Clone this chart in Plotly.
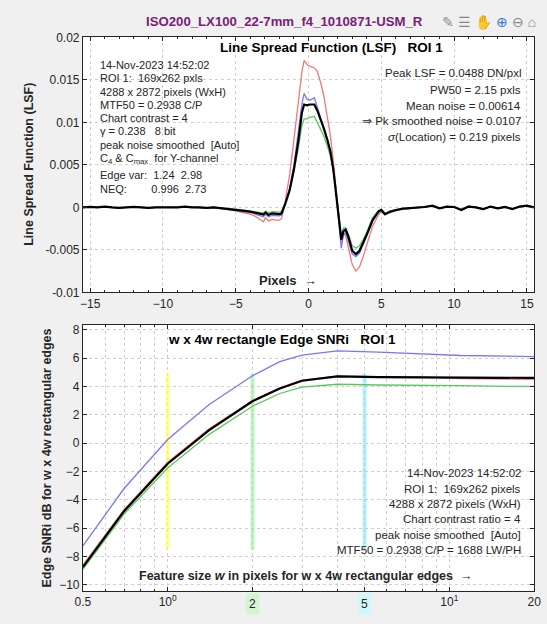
import math
import plotly.graph_objects as go

W, H = 547, 624

# ---------------- Line Spread Function data (values in units of 1e-4 DN/pxl) ----------------
LSF_UNIT = 1e-4
lsf_x = [-15.5, -15, -14.5, -14, -13.5, -13, -12.5, -12, -11.5, -11,
         -10.5, -10, -9.5, -9, -8.5, -8, -7.5, -7, -6.5, -6,
         -5.5, -5, -4.5, -4, -3.6, -3.3, -3.1, -2.95, -2.75, -2.5,
         -2.25, -2.0, -1.85, -1.6, -1.3, -1.0, -0.7, -0.45, -0.3, -0.1,
         0.1, 0.4, 0.6, 0.85, 1.05, 1.3, 1.5, 1.7, 1.9, 2.05,
         2.25, 2.4, 2.55, 2.75, 3.0, 3.25, 3.5, 3.75, 4.0, 4.4,
         4.8, 5.0, 5.25, 5.6, 6.0, 6.5, 7, 7.5, 8, 8.5,
         9, 9.5, 10, 10.5, 11, 11.5, 12, 12.5, 13, 13.5,
         14, 14.5, 15, 15.5]

lsf_red = [0, 0.5, 0, 0.5, 0, -0.5, 0, 0.5, 0, -0.5,
           0, 0, 0.5, 0, 1, 0, -0.5, -0.5, -0.5, -1.5,
           -2.5, -4, -6, -8, -11, -14, -17, -12, -16, -14,
           -15, -15, -13, 8, 38, 80, 128, 160, 173, 168,
           166, 164, 160, 146, 131, 108, 85, 55, 25, -5,
           -40, -32, -33, -48, -67, -75, -70, -58, -45, -22,
           -9, -5, -9, -6, -4, -2, -1.5, -0.5, 0, 1.5,
           -1.5, 1, 1, -2, 2, -0.5, -2.5, 1, -1.5, 0,
           -2, 0.5, 1.5, 0]

lsf_green = [0, 0.5, 0, 1, 0, -0.5, 0, 0.5, 0, -0.5,
             0, 0, 0.5, 0, 1, 0, 0, -0.5, 0, -0.5,
             -1, -2, -3, -4, -5, -6, -6.5, -4.5, -6.5, -5,
             -5.5, -5.5, -4.5, 5, 20, 42, 70, 97, 104, 104,
             106, 107, 100, 92, 84, 72, 60, 43, 20, -4,
             -34, -24, -24, -32, -45, -48, -45, -38, -29, -12,
             -4, -2, -7, -4, -2.5, -1.5, -1, 0, 0.5, 2,
             -1, 1, 0.5, -2.5, 1, 0, -2, 1, -1, 0.5,
             -1.5, 1, 1.5, 0]

lsf_blue = [0, 0.5, 0, 1, 0, -0.5, 0, 0.5, 0, -0.5,
            0, 0, 0.5, 0, 1, 0, 0, -0.5, 0, -1,
            -2, -3, -4.5, -6, -8, -10, -11, -8, -11, -9.5,
            -10, -10, -9, 4, 22, 50, 88, 122, 134, 127,
            126, 129, 118, 105, 94, 80, 66, 44, 16, -12,
            -48, -32, -30, -40, -55, -58, -54, -44, -34, -16,
            -6, -3, -8, -5, -3, -1.5, -1, 0, 0.5, 2,
            -1, 1, 0.5, -3, 1, 0, -2, 1, -1, 0.5,
            -2, 1, 2, 0]

lsf_black = [0, 0.5, 0, 1, 0, -0.5, 0, 0.5, 0, -0.5,
             0, 0, 0.5, 0, 1, 0, 0, -0.5, 0, -1,
             -1.5, -2.5, -3.5, -5, -6.5, -8, -8.5, -6, -9, -7,
             -7.5, -8, -7, 4, 20, 45, 78, 112, 121, 120,
             121, 121, 114, 103, 93, 79, 66, 45, 18, -8,
             -38, -28, -26, -35, -51, -55, -51, -42, -32, -15,
             -5, -3, -8, -5, -3, -1.5, -1, 0, 0.5, 2,
             -1, 1, 0.5, -3, 1, 0, -2, 1, -1, 0.5,
             -2, 1, 2, 0]

lsf_xticks = [-15, -10, -5, 0, 5, 10, 15]
lsf_yticks = [-0.01, -0.005, 0, 0.005, 0.01, 0.015, 0.02]
lsf_yticktext = ["-0.01", "-0.005", "0", "0.005", "0.01", "0.015", "0.02"]

# ---------------- Edge SNRi data ----------------
snr_w = [0.5, 0.7, 1.0, 1.4, 2.0, 2.5, 3.0, 4.0, 5.6, 8.0, 11.0, 16.0, 20.0]
snr_blue = [-7.25, -3.2, 0.25, 2.7, 4.75, 5.75, 6.2, 6.5, 6.42, 6.3, 6.18, 6.13, 6.1]
snr_red = [-8.6, -4.7, -1.35, 1.0, 3.0, 3.9, 4.45, 4.72, 4.68, 4.65, 4.55, 4.5, 4.5]
snr_black = [-8.75, -4.8, -1.45, 0.9, 2.95, 3.85, 4.4, 4.7, 4.65, 4.65, 4.62, 4.6, 4.6]
snr_green = [-8.9, -5.0, -1.75, 0.6, 2.6, 3.5, 3.95, 4.15, 4.1, 4.1, 4.05, 4.0, 4.0]

marker_w = [1, 2, 5]
marker_span = [-7.5, 4.9]
marker_colors = ["rgba(255,255,90,0.65)", "rgba(150,230,150,0.55)", "rgba(120,232,240,0.55)"]

snr_xticks = [0.5, 1, 2, 5, 10, 20]
snr_xticktext = ["0.5", "10<sup>0</sup>", "", "", "10<sup>1</sup>", "20"]
snr_minor = [0.6, 0.7, 0.8, 0.9, 3, 4, 6, 7, 8, 9]
snr_yticks = [-10, -8, -6, -4, -2, 0, 2, 4, 6, 8]

# ---------------- helpers ----------------
def px(x):
    return x / W

def py(y):
    return 1 - y / H

FONT = "Liberation Sans, Arial, Helvetica, sans-serif"
TXT = "#262626"
AX = "#262626"
GRID = "#cfcfcf"

RED = "#f07878"
BLUE = "#7878f5"
GREEN = "#5cc85c"

fig = go.Figure()

lsf_scaled = lambda vals: [v * LSF_UNIT for v in vals]
for vals, col, wd in [(lsf_red, RED, 1.3), (lsf_green, GREEN, 1.3),
                      (lsf_blue, BLUE, 1.3), (lsf_black, "black", 2.2)]:
    fig.add_trace(go.Scatter(x=lsf_x, y=lsf_scaled(vals), mode="lines",
                             line=dict(color=col, width=wd),
                             xaxis="x", yaxis="y", showlegend=False,
                             hoverinfo="skip"))

for w, col in zip(marker_w, marker_colors):
    fig.add_trace(go.Scatter(x=[w, w], y=marker_span, mode="lines",
                             line=dict(color=col, width=4),
                             xaxis="x2", yaxis="y2", showlegend=False,
                             hoverinfo="skip"))

for vals, col, wd in [(snr_blue, BLUE, 1.3), (snr_red, RED, 1.3),
                      (snr_green, GREEN, 1.3), (snr_black, "black", 2.2)]:
    fig.add_trace(go.Scatter(x=snr_w, y=vals, mode="lines",
                             line=dict(color=col, width=wd),
                             xaxis="x2", yaxis="y2", showlegend=False,
                             hoverinfo="skip"))

axis_common = dict(showline=True, linecolor=AX, linewidth=1, mirror="ticks",
                   ticks="inside", ticklen=4, tickcolor=AX,
                   showgrid=True, gridcolor=GRID, griddash="dot", gridwidth=1,
                   zeroline=False, ticklabeloverflow="allow",
                   tickfont=dict(family=FONT, size=12, color=TXT))

xdom = [px(77), px(541)]
fig.update_layout(
    width=W, height=H,
    margin=dict(l=0, r=0, t=0, b=0),
    paper_bgcolor="#f0f0f0", plot_bgcolor="white",
    showlegend=False,
    xaxis=dict(domain=xdom, range=[-15.5, 15.5], tickvals=lsf_xticks,
               anchor="y",
               minor=dict(dtick=1, ticks="inside", ticklen=2, tickcolor=AX, showgrid=False),
               **axis_common),
    yaxis=dict(domain=[py(292), py(31)], range=[-0.01, 0.02],
               tickvals=lsf_yticks, ticktext=lsf_yticktext, anchor="x",
               **axis_common),
    xaxis2=dict(domain=xdom, type="log", range=[math.log10(0.5), math.log10(20)],
                tickvals=snr_xticks, ticktext=snr_xticktext, anchor="y2",
                minor=dict(tickvals=snr_minor, ticks="inside", ticklen=2, tickcolor=AX,
                           showgrid=True, gridcolor=GRID, griddash="dot"),
                **axis_common),
    yaxis2=dict(domain=[py(597), py(325)], range=[-10.4, 8.35],
                tickvals=snr_yticks, anchor="x2",
                **axis_common),
)

ann = []

def text(x, y, s, size=11, anchor="left", bold=False, color=TXT, angle=0, **kw):
    if bold:
        s = "<b>" + s + "</b>"
    ann.append(dict(x=px(x), y=py(y), xref="paper", yref="paper", text=s,
                    showarrow=False, xanchor=anchor, yanchor="middle",
                    textangle=angle,
                    font=dict(family=FONT, size=size, color=color), **kw))

# window title and toolbar
text(140, 15, "ISO200_LX100_22-7mm_f4_1010871-USM_R", size=13.2, bold=True, color="#7a2077")
text(545, 15, "<span style='color:#888'>✎ ☰ ✋</span> <span style='color:#3a78d0'>⊕</span> "
              "<span style='color:#888'>⊖ ⌂</span>", size=14, anchor="right",
     color="#888")

# top plot texts
text(333, 41, "Line Spread Function (LSF)   ROI 1", size=13.5, anchor="center", bold=True, color="black")
top_left_lines = ["14-Nov-2023 14:52:02", "ROI 1:  169x262 pxls", "4288 x 2872 pixels (WxH)",
                  "MTF50 = 0.2938 C/P", "Chart contrast = 4", "γ = 0.238   8 bit",
                  "peak noise smoothed  [Auto]", "C<sub>4</sub> & C<sub>max</sub>  for Y-channel",
                  "Edge var:  1.24  2.98", "NEQ:        0.996  2.73"]
top_left_y = [59, 73, 87, 100, 114, 127, 141, 155, 172, 186]
for s, yy in zip(top_left_lines, top_left_y):
    text(93, yy, s, size=11)

top_right_lines = ["Peak LSF = 0.0488 DN/pxl", "PW50 = 2.15 pxls", "Mean noise = 0.00614",
                   "⇒ Pk smoothed noise = 0.0107", "<i>σ</i>(Location) = 0.219 pixels"]
top_right_y = [68, 85, 101, 117, 133]
for s, yy in zip(top_right_lines, top_right_y):
    text(530, yy, s, size=11.5, anchor="right")

text(288, 280, "Pixels  →", size=13, anchor="center", bold=True, color="#262626")
text(22, 161, "Line Spread Function (LSF)", size=12.5, anchor="center", bold=True, angle=-90)

# bottom plot texts
text(282, 340, "w x 4w rectangle Edge SNRi   ROI 1", size=13.5, anchor="center", bold=True, color="black")
bot_right_lines = ["14-Nov-2023 14:52:02", "ROI 1:  169x262 pixels", "4288 x 2872 pixels (WxH)",
                   "Chart contrast ratio = 4", "peak noise smoothed  [Auto]",
                   "MTF50 = 0.2938 C/P = 1688 LW/PH"]
bot_right_y = [477, 493, 508, 524, 540, 555]
for s, yy in zip(bot_right_lines, bot_right_y):
    text(530, yy, s, size=11.5, anchor="right")

text(306, 582, "Feature size <i>w</i> in pixels for w x 4w rectangular edges  →", size=12.5,
     anchor="center", bold=True)
text(40, 461, "Edge SNRi dB for w x 4w rectangular edges", size=12.5, anchor="center",
     bold=True, angle=-90)

# highlighted tick labels 2 and 5
for w, bg in [(2, "#d2f5d2"), (5, "#d2f7fb")]:
    ann.append(dict(x=math.log10(w), y=py(611), xref="x2", yref="paper", text=str(w),
                    showarrow=False, xanchor="center", yanchor="middle",
                    bgcolor=bg, borderpad=3,
                    font=dict(family=FONT, size=12, color=TXT)))

fig.update_layout(annotations=ann)
fig.write_html("out.html", config={"displayModeBar": False},
               post_script="document.body.style.margin='0';document.body.style.overflow='hidden';")
